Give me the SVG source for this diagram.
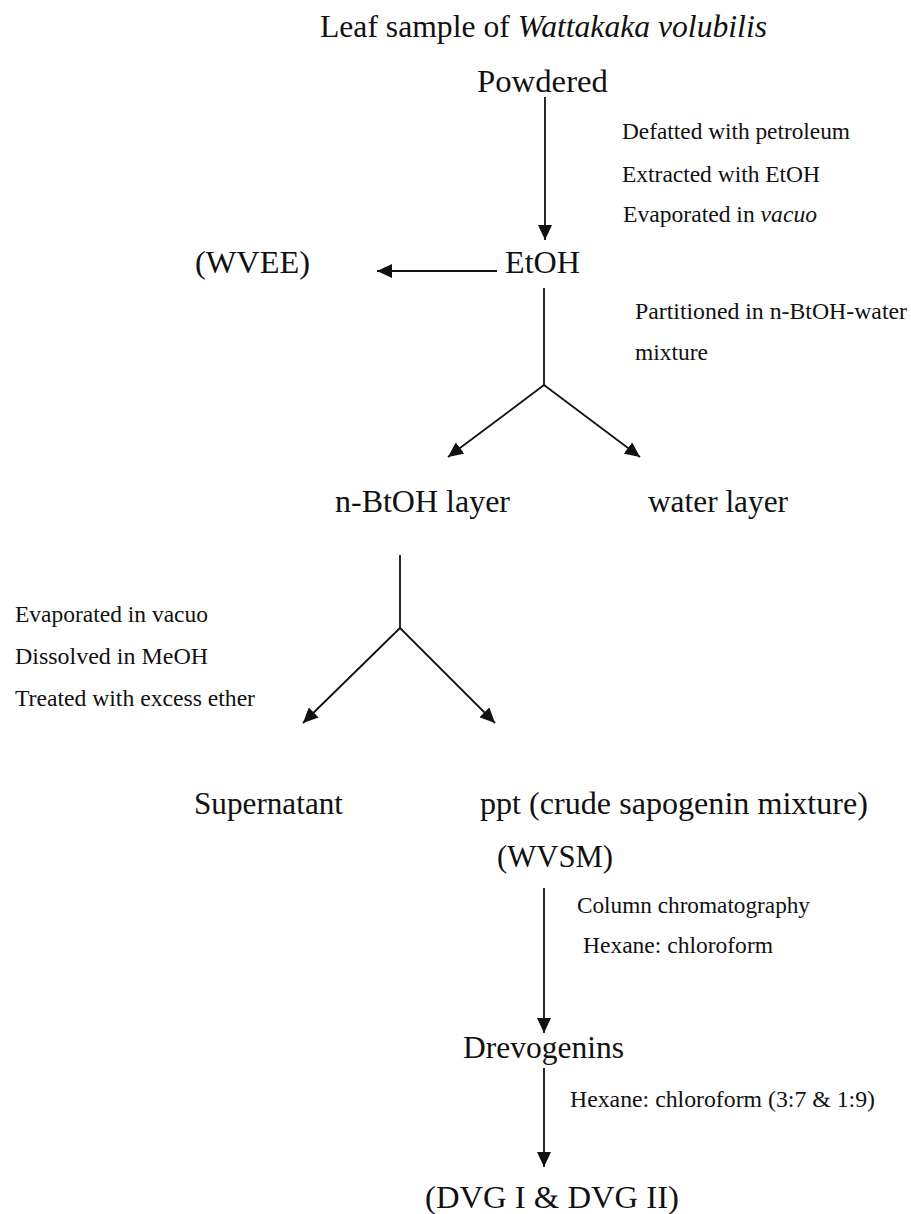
<svg xmlns="http://www.w3.org/2000/svg" width="911" height="1214" viewBox="0 0 911 1214">
<defs>
<style>
text{font-family:"Liberation Serif","Times New Roman",serif;fill:#111}
.big{font-size:31px}
.small{font-size:23px}
.ln{stroke:#111;stroke-width:1.8;fill:none}
</style>
<marker id="ah" markerUnits="userSpaceOnUse" markerWidth="16" markerHeight="14" refX="15" refY="7" orient="auto">
<path d="M0,0 L15,7 L0,14 z" fill="#111"/>
</marker>
</defs>
<rect width="911" height="1214" fill="#fff"/>
<g id="connectors">
<line class="ln" x1="545" y1="97" x2="545" y2="240" marker-end="url(#ah)"/>
<line class="ln" x1="497" y1="271" x2="377" y2="271" marker-end="url(#ah)"/>
<line class="ln" x1="544" y1="288" x2="544" y2="385"/>
<line class="ln" x1="544" y1="385" x2="448" y2="457" marker-end="url(#ah)"/>
<line class="ln" x1="544" y1="385" x2="640" y2="457" marker-end="url(#ah)"/>
<line class="ln" x1="400" y1="555" x2="400" y2="628"/>
<line class="ln" x1="400" y1="628" x2="303" y2="723" marker-end="url(#ah)"/>
<line class="ln" x1="400" y1="628" x2="495" y2="723" marker-end="url(#ah)"/>
<line class="ln" x1="544" y1="888" x2="544" y2="1033" marker-end="url(#ah)"/>
<line class="ln" x1="544" y1="1068" x2="544" y2="1167" marker-end="url(#ah)"/>
</g>
<g id="leaf"><text class="big" x="320" y="37" textLength="447" lengthAdjust="spacingAndGlyphs">Leaf sample of <tspan font-style="italic">Wattakaka volubilis</tspan></text></g>
<g id="powdered"><text class="big" x="477" y="92" textLength="131" lengthAdjust="spacingAndGlyphs">Powdered</text></g>
<g id="step1">
<text class="small" x="622" y="139" textLength="228" lengthAdjust="spacingAndGlyphs">Defatted with petroleum</text>
<text class="small" x="622" y="182" textLength="198" lengthAdjust="spacingAndGlyphs">Extracted with EtOH</text>
<text class="small" x="623" y="222" textLength="194" lengthAdjust="spacingAndGlyphs">Evaporated in <tspan font-style="italic">vacuo</tspan></text>
</g>
<g id="etoh"><text class="big" x="505" y="273" textLength="75" lengthAdjust="spacingAndGlyphs">EtOH</text></g>
<g id="wvee"><text class="big" x="195" y="273" textLength="115" lengthAdjust="spacingAndGlyphs">(WVEE)</text></g>
<g id="step2">
<text class="small" x="635" y="319" textLength="272" lengthAdjust="spacingAndGlyphs">Partitioned in n-BtOH-water</text>
<text class="small" x="635" y="360" textLength="73" lengthAdjust="spacingAndGlyphs">mixture</text>
</g>
<g id="butanol"><text class="big" x="335" y="512" textLength="175" lengthAdjust="spacingAndGlyphs">n-BtOH layer</text></g>
<g id="water"><text class="big" x="648" y="512" textLength="140" lengthAdjust="spacingAndGlyphs">water layer</text></g>
<g id="step3">
<text class="small" x="15" y="622" textLength="193" lengthAdjust="spacingAndGlyphs">Evaporated in vacuo</text>
<text class="small" x="15" y="664" textLength="193" lengthAdjust="spacingAndGlyphs">Dissolved in MeOH</text>
<text class="small" x="15" y="706" textLength="240" lengthAdjust="spacingAndGlyphs">Treated with excess ether</text>
</g>
<g id="supernatant"><text class="big" x="194" y="814" textLength="149" lengthAdjust="spacingAndGlyphs">Supernatant</text></g>
<g id="ppt">
<text class="big" x="480" y="814" textLength="388" lengthAdjust="spacingAndGlyphs">ppt (crude sapogenin mixture)</text>
<text class="big" x="497" y="867" textLength="116" lengthAdjust="spacingAndGlyphs">(WVSM)</text>
</g>
<g id="step4">
<text class="small" x="577" y="913" textLength="233" lengthAdjust="spacingAndGlyphs">Column chromatography</text>
<text class="small" x="583" y="953" textLength="190" lengthAdjust="spacingAndGlyphs">Hexane: chloroform</text>
</g>
<g id="drevogenins"><text class="big" x="463" y="1058" textLength="161" lengthAdjust="spacingAndGlyphs">Drevogenins</text></g>
<g id="step5"><text class="small" x="570" y="1107" textLength="305" lengthAdjust="spacingAndGlyphs">Hexane: chloroform (3:7 &amp; 1:9)</text></g>
<g id="dvg"><text class="big" x="425" y="1208" textLength="254" lengthAdjust="spacingAndGlyphs">(DVG I &amp; DVG II)</text></g>
</svg>
